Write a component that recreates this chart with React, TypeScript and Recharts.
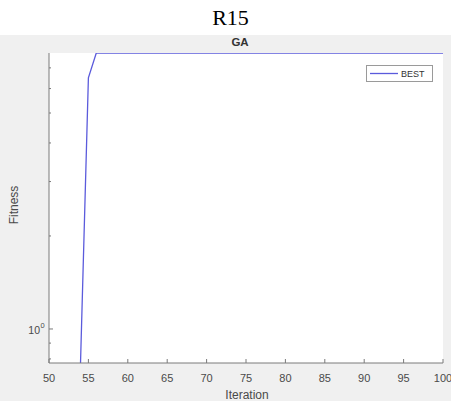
import React from 'react';
import { LineChart, Line, XAxis, YAxis, CartesianGrid } from 'recharts';

const iterations = [54, 55, 56, 100];
const bestFitness = [0.776, 6.5, 7.82, 7.82];
const xTicks = [50, 55, 60, 65, 70, 75, 80, 85, 90, 95, 100];
const yTicks = [0.8, 0.9, 1, 2, 3, 4, 5, 6, 7];
const yMajor = [1];
const seriesName = 'BEST';

const data = iterations.map((it, i) => ({ iteration: it, best: bestFitness[i] }));

const FONT = '"Liberation Sans", Arial, Helvetica, sans-serif';
const AXIS = '#7a7a7a';
const TEXT = '#4a4a4a';
const LINE = '#5b5bdc';

const BottomTick = (props: any) => {
  const { x, y, payload } = props;
  return (
    <g>
      <line x1={x} x2={x} y1={y} y2={y - 4} stroke={AXIS} strokeWidth={1} />
      <text x={x} y={y + 19} textAnchor="middle" fontSize={11} fontFamily={FONT} fill={TEXT}>
        {payload.value}
      </text>
    </g>
  );
};

const TopTick = (props: any) => {
  const { x, y } = props;
  return <line x1={x} x2={x} y1={y} y2={y + 4} stroke={AXIS} strokeWidth={1} />;
};

const LeftTick = (props: any) => {
  const { x, y, payload } = props;
  const major = yMajor.includes(payload.value);
  return (
    <g>
      <line x1={x} x2={x + (major ? 4 : 2)} y1={y} y2={y} stroke={AXIS} strokeWidth={1} />
      {major && (
        <text x={x - 9} y={y + 5} textAnchor="end" fontSize={10.5} fontFamily={FONT} fill={TEXT}>
          10
        </text>
      )}
      {major && (
        <text x={x - 8.5} y={y - 0.5} textAnchor="start" fontSize={7.5} fontFamily={FONT} fill={TEXT}>
          0
        </text>
      )}
    </g>
  );
};

const RightTick = (props: any) => {
  const { x, y, payload } = props;
  const major = yMajor.includes(payload.value);
  return <line x1={x} x2={x - (major ? 4 : 2)} y1={y} y2={y} stroke={AXIS} strokeWidth={1} />;
};

export default function App() {
  return (
    <div style={{ position: 'absolute', left: 0, top: 0, width: 451, height: 401, background: '#ffffff', overflow: 'hidden' }}>
      <div
        style={{
          position: 'absolute',
          left: 0,
          top: 0,
          width: 451,
          height: 35,
          textAlign: 'center',
          fontFamily: '"Liberation Serif", "Times New Roman", serif',
          fontSize: 22,
          lineHeight: '35px',
          color: '#000',
          paddingLeft: 10,
          boxSizing: 'border-box',
        }}
      >
        R15
      </div>
      <div style={{ position: 'absolute', left: 0, top: 35, width: 451, height: 366, background: '#f0f0f0' }} />
      <div
        style={{
          position: 'absolute',
          left: 190,
          top: 36,
          width: 100,
          textAlign: 'center',
          fontFamily: FONT,
          fontWeight: 'bold',
          fontSize: 11.5,
          color: '#333',
        }}
      >
        GA
      </div>
      <div
        style={{
          position: 'absolute',
          left: 197,
          top: 388,
          width: 100,
          textAlign: 'center',
          fontFamily: FONT,
          fontSize: 12,
          color: TEXT,
        }}
      >
        Iteration
      </div>
      <div
        style={{
          position: 'absolute',
          left: -36,
          top: 198,
          width: 100,
          textAlign: 'center',
          fontFamily: FONT,
          fontSize: 12,
          color: TEXT,
          transform: 'rotate(-90deg)',
        }}
      >
        Fitness
      </div>
      <div style={{ position: 'absolute', left: 0, top: 0 }}>
        <LineChart width={451} height={401} data={data} margin={{ top: 53, right: 8, bottom: 0, left: 8 }}>
          <CartesianGrid horizontal={false} vertical={false} fill="#ffffff" />
          <XAxis
            xAxisId="bottom"
            dataKey="iteration"
            type="number"
            domain={[50, 100]}
            ticks={xTicks}
            interval={0}
            allowDataOverflow
            height={38}
            tickSize={0}
            tickMargin={0}
            tickLine={false}
            axisLine={{ stroke: AXIS, strokeWidth: 1 }}
            tick={<BottomTick />}
          />
          <XAxis
            xAxisId="top"
            orientation="top"
            dataKey="iteration"
            type="number"
            domain={[50, 100]}
            ticks={xTicks}
            interval={0}
            allowDataOverflow
            height={0}
            tickSize={0}
            tickMargin={0}
            tickLine={false}
            axisLine={{ stroke: AXIS, strokeWidth: 1 }}
            tick={<TopTick />}
          />
          <YAxis
            yAxisId="left"
            scale="log"
            type="number"
            domain={[0.776, 7.82]}
            ticks={yTicks}
            interval={0}
            allowDataOverflow
            width={41}
            tickSize={0}
            tickMargin={0}
            tickLine={false}
            axisLine={{ stroke: AXIS, strokeWidth: 1 }}
            tick={<LeftTick />}
          />
          <YAxis
            yAxisId="right"
            orientation="right"
            scale="log"
            type="number"
            domain={[0.776, 7.82]}
            ticks={yTicks}
            interval={0}
            allowDataOverflow
            width={0}
            tickSize={0}
            tickMargin={0}
            tickLine={false}
            axisLine={{ stroke: AXIS, strokeWidth: 1 }}
            tick={<RightTick />}
          />
          <Line
            xAxisId="bottom"
            yAxisId="left"
            type="linear"
            dataKey="best"
            name={seriesName}
            stroke={LINE}
            strokeWidth={1.3}
            dot={false}
            isAnimationActive={false}
          />
        </LineChart>
      </div>
      <svg width={68} height={18} style={{ position: 'absolute', left: 366, top: 65 }}>
        <rect x={0.5} y={0.5} width={66} height={16} fill="#ffffff" stroke="#9a9a9a" strokeWidth={1} />
        <line x1={4} x2={32} y1={8.5} y2={8.5} stroke={LINE} strokeWidth={1.3} />
        <text x={35} y={12} fontSize={9} fontFamily={FONT} fill="#333">
          {seriesName}
        </text>
      </svg>
    </div>
  );
}
